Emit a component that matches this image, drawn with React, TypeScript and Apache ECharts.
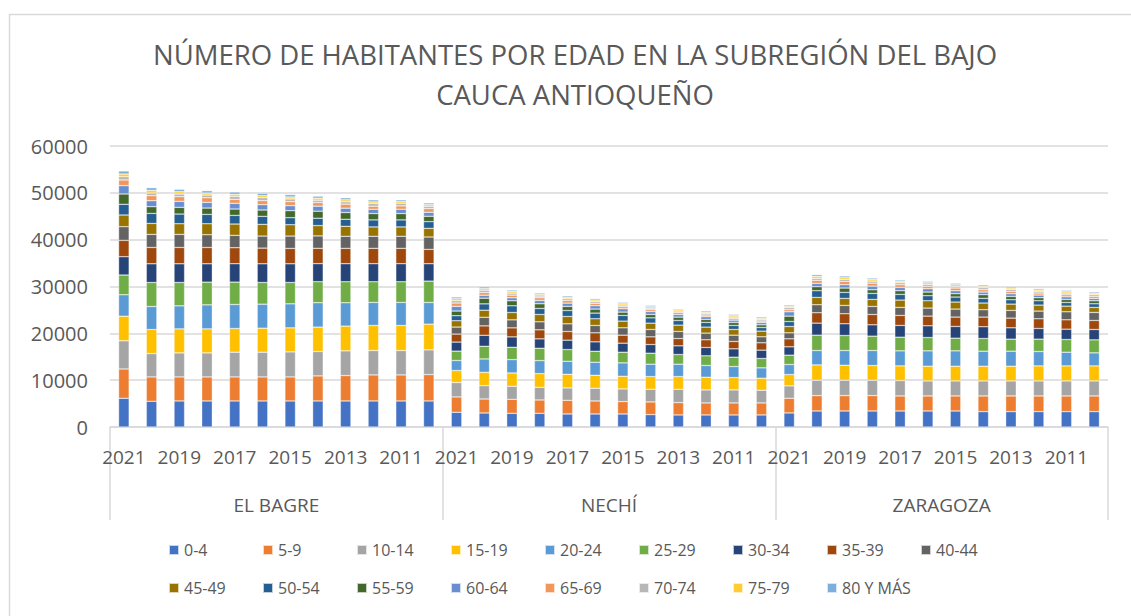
import React, { useEffect, useRef } from "react";
import * as echarts from "echarts";

const titleLines = ["NÚMERO DE HABITANTES POR EDAD EN LA SUBREGIÓN DEL BAJO", "CAUCA ANTIOQUEÑO"];
const municipios = ["EL BAGRE", "NECHÍ", "ZARAGOZA"];
const years = ["2021", "2020", "2019", "2018", "2017", "2016", "2015", "2014", "2013", "2012", "2011", "2010"];
const ageGroups = ["0-4", "5-9", "10-14", "15-19", "20-24", "25-29", "30-34", "35-39", "40-44", "45-49", "50-54", "55-59", "60-64", "65-69", "70-74", "75-79", "80 Y MÁS"];
const colors = ["#4472C4", "#ED7D31", "#A5A5A5", "#FFC000", "#5B9BD5", "#70AD47", "#264478", "#9E480E", "#636363", "#997300", "#255E91", "#43682B", "#698ED0", "#F1975A", "#B7B7B7", "#FFCD33", "#7CAFDD"];
const yTicks = { min: 0, max: 60000, interval: 10000 };

// rows = age groups, columns = years 2021..2010
const elBagre = [
  [6130, 5490, 5560, 5560, 5560, 5560, 5560, 5560, 5560, 5560, 5560, 5560],
  [6270, 5200, 5130, 5130, 5130, 5130, 5130, 5350, 5420, 5560, 5560, 5630],
  [5990, 4990, 5130, 5130, 5280, 5280, 5350, 5210, 5280, 5210, 5210, 5280],
  [5280, 5130, 5130, 5130, 5060, 5130, 5130, 5210, 5280, 5350, 5350, 5490],
  [4560, 4920, 4920, 5130, 5130, 5130, 5130, 5210, 4990, 4920, 4920, 4630],
  [4210, 5130, 4990, 4850, 4780, 4630, 4560, 4490, 4490, 4420, 4420, 4560],
  [3920, 3990, 3990, 3920, 3920, 3990, 3990, 3850, 3850, 3850, 3850, 3710],
  [3490, 3490, 3490, 3490, 3420, 3350, 3280, 3280, 3280, 3280, 3280, 3070],
  [2920, 2780, 2780, 2710, 2640, 2570, 2640, 2640, 2570, 2570, 2570, 2640],
  [2500, 2350, 2280, 2350, 2420, 2500, 2420, 2210, 2140, 2000, 2000, 1850],
  [2280, 2140, 2070, 2000, 1850, 1710, 1500, 1570, 1500, 1500, 1500, 1430],
  [2210, 1430, 1430, 1350, 1350, 1350, 1500, 1500, 1430, 1350, 1350, 1140],
  [1780, 1280, 1280, 1210, 1210, 1140, 1070, 1070, 930, 930, 930, 860],
  [1210, 1070, 1000, 1000, 860, 860, 860, 780, 860, 640, 710, 780],
  [710, 570, 570, 570, 640, 640, 570, 500, 500, 570, 570, 500],
  [570, 570, 500, 430, 430, 430, 430, 430, 430, 360, 360, 360],
  [640, 570, 500, 500, 500, 500, 500, 430, 430, 430, 360, 360],
];

const nechi = [
  [3140, 2990, 2920, 2920, 2780, 2780, 2780, 2640, 2570, 2570, 2570, 2570],
  [3280, 2990, 2990, 2850, 2920, 2780, 2640, 2710, 2640, 2570, 2570, 2570],
  [3070, 2850, 2780, 2710, 2640, 2710, 2710, 2710, 2850, 2780, 2780, 2710],
  [2570, 2850, 2850, 2920, 2920, 2780, 2710, 2710, 2710, 2710, 2640, 2570],
  [2140, 2850, 2850, 2780, 2780, 2780, 2850, 2640, 2640, 2500, 2350, 2210],
  [2000, 2710, 2640, 2640, 2500, 2350, 2280, 2350, 2070, 2070, 2000, 2000],
  [1930, 2350, 2210, 2000, 2000, 2000, 1930, 1850, 1850, 1780, 1780, 1780],
  [1710, 2000, 1930, 1930, 1850, 1930, 1710, 1640, 1570, 1640, 1570, 1570],
  [1500, 1850, 1710, 1710, 1640, 1570, 1570, 1570, 1500, 1430, 1350, 1280],
  [1350, 1500, 1570, 1570, 1570, 1430, 1430, 1350, 1350, 1280, 1210, 1210],
  [1070, 1350, 1430, 1280, 1280, 1210, 1210, 1140, 1000, 1000, 860, 780],
  [1000, 1210, 1070, 1000, 860, 860, 710, 710, 710, 640, 640, 570],
  [1000, 640, 640, 710, 710, 710, 710, 640, 570, 570, 500, 500],
  [710, 570, 570, 570, 570, 500, 430, 430, 430, 360, 360, 290],
  [500, 500, 430, 360, 360, 360, 360, 290, 290, 290, 290, 290],
  [430, 360, 360, 360, 360, 360, 290, 290, 290, 290, 290, 290],
  [360, 360, 290, 290, 290, 290, 290, 290, 210, 290, 290, 290],
];

const zaragoza = [
  [3000, 3420, 3420, 3420, 3420, 3420, 3420, 3280, 3280, 3280, 3280, 3280],
  [3140, 3280, 3280, 3280, 3210, 3210, 3210, 3350, 3350, 3350, 3350, 3350],
  [2640, 3280, 3280, 3280, 3280, 3210, 3210, 3210, 3210, 3210, 3210, 3210],
  [2420, 3280, 3210, 3140, 3140, 3140, 3140, 3140, 3140, 3210, 3210, 3210],
  [2140, 3070, 3140, 3210, 3210, 3280, 3280, 3210, 3210, 3070, 2920, 2780],
  [2000, 3280, 3210, 3070, 2920, 2850, 2710, 2710, 2570, 2640, 2710, 2780],
  [1780, 2570, 2500, 2420, 2500, 2500, 2500, 2500, 2420, 2280, 2210, 2210],
  [1710, 2210, 2140, 2210, 2140, 2070, 2000, 2070, 2070, 2070, 2000, 1930],
  [1280, 1710, 1780, 1710, 1710, 1710, 1710, 1570, 1640, 1640, 1710, 1710],
  [1350, 1570, 1500, 1500, 1570, 1570, 1500, 1430, 1350, 1280, 1210, 1070],
  [1070, 1430, 1280, 1280, 1210, 1070, 1070, 1000, 930, 930, 780, 780],
  [1140, 860, 930, 780, 780, 780, 710, 780, 710, 640, 640, 640],
  [930, 710, 710, 780, 710, 710, 640, 570, 570, 570, 570, 500],
  [430, 640, 710, 640, 570, 500, 570, 500, 500, 430, 430, 430],
  [430, 430, 430, 430, 430, 430, 360, 430, 430, 360, 360, 360],
  [290, 430, 360, 360, 290, 360, 360, 290, 290, 290, 290, 290],
  [290, 360, 360, 290, 290, 290, 290, 290, 290, 290, 290, 290],
];

const FONT = "'Open Sans', 'Noto Sans', sans-serif";
const TXT = "#595959";
const LINE = "#D9D9D9";

export default function App() {
  const ref = useRef<HTMLDivElement>(null);
  useEffect(() => {
    if (!ref.current) return;
    const chart = echarts.init(ref.current, null, { renderer: "svg" });
    const categories: string[] = [];
    municipios.forEach((m) => years.forEach((y) => categories.push(m + "|" + y)));
    const tables = [elBagre, nechi, zaragoza];
    const series = ageGroups.map((name, i) => ({
      name,
      type: "bar",
      stack: "total",
      barCategoryGap: "62%",
      itemStyle: { color: colors[i], borderColor: "rgba(255,255,255,0.7)", borderWidth: 0.5 },
      emphasis: { disabled: true },
      data: tables.flatMap((t) => t[i]),
    }));
    const legendBase = {
      orient: "horizontal",
      icon: "rect",
      itemWidth: 10,
      itemHeight: 10,
      itemGap: 9,
      padding: 0,
      left: 168,
      selectedMode: false,
      formatter: "{n|{name}}",
      textStyle: {
        rich: { n: { width: 69, fontSize: 16, lineHeight: 20, color: TXT, fontFamily: FONT } },
      },
    };
    chart.setOption({
      animation: false,
      textStyle: { fontFamily: FONT },
      grid: { left: 110, right: 23, top: 146, bottom: 189, containLabel: false },
      graphic: [
        {
          type: "rect",
          shape: { x: 9.5, y: 14.5, width: 1200, height: 700 },
          style: { fill: "none", stroke: LINE, lineWidth: 1.5 },
          silent: true,
        },
        {
          type: "text",
          x: 575,
          y: 54,
          style: { text: titleLines[0], textAlign: "center", textVerticalAlign: "middle", fill: TXT, fontSize: 27.5, fontFamily: FONT },
        },
        {
          type: "text",
          x: 575,
          y: 94,
          style: { text: titleLines[1], textAlign: "center", textVerticalAlign: "middle", fill: TXT, fontSize: 27.5, fontFamily: FONT },
        },
      ],
      legend: [
        { ...legendBase, top: 542, data: ageGroups.slice(0, 9) },
        { ...legendBase, top: 580, data: ageGroups.slice(9) },
      ],
      xAxis: [
        {
          type: "category",
          data: categories,
          position: "bottom",
          axisLine: { lineStyle: { color: LINE, width: 1.5 } },
          axisTick: { show: false },
          axisLabel: {
            interval: 1,
            fontSize: 19,
            color: TXT,
            margin: 20,
            fontFamily: FONT,
            formatter: (v: string) => v.split("|")[1],
          },
        },
        {
          type: "category",
          data: municipios,
          position: "bottom",
          axisLine: { show: false },
          axisTick: { show: true, length: 93, interval: 0, lineStyle: { color: LINE, width: 1.5 } },
          axisLabel: { interval: 0, fontSize: 19, color: TXT, margin: 68, fontFamily: FONT },
          splitLine: { show: false },
        },
      ],
      yAxis: {
        type: "value",
        min: yTicks.min,
        max: yTicks.max,
        interval: yTicks.interval,
        axisLine: { show: false },
        axisTick: { show: false },
        splitLine: { lineStyle: { color: LINE, width: 1.5 } },
        axisLabel: { fontSize: 20, color: TXT, margin: 22, fontFamily: FONT, formatter: (v: number) => String(v) },
      },
      series,
    });
    return () => chart.dispose();
  }, []);
  return (
    <div
      ref={ref}
      style={{ position: "fixed", left: 0, top: 0, width: 1131, height: 616, background: "#fff" }}
    />
  );
}
